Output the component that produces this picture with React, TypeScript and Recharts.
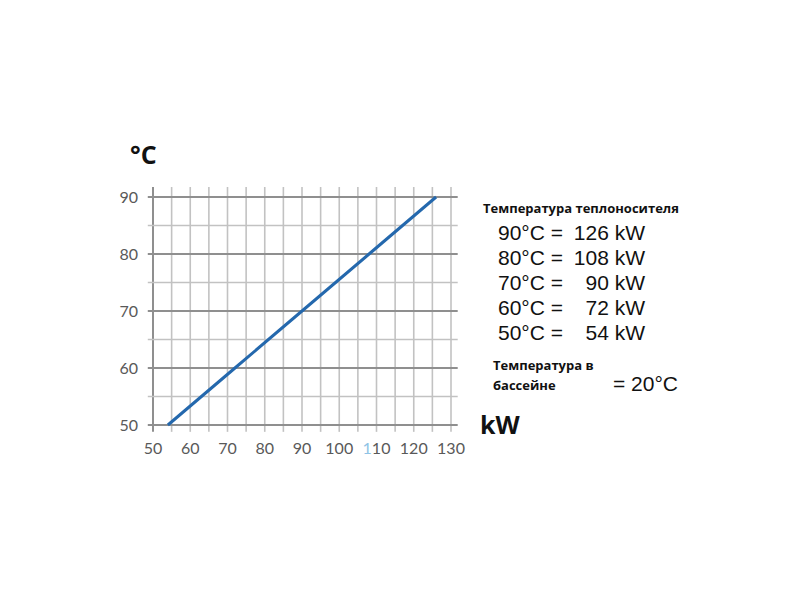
import React from 'react';
import { LineChart, Line, XAxis, YAxis, ReferenceLine } from 'recharts';

// heating capacity at each supply temperature (pool at 20°C)
const temps = [50, 60, 70, 80, 90];
const powers = [54, 72, 90, 108, 126];
const xTicks = [50, 60, 70, 80, 90, 100, 110, 120, 130];
const yTicks = [50, 60, 70, 80, 90];
const xGrid = [50, 55, 60, 65, 70, 75, 80, 85, 90, 95, 100, 105, 110, 115, 120, 125, 130];
const yGrid = [50, 55, 60, 65, 70, 75, 80, 85, 90];

const data = powers.map((p, i) => ({ kw: p, t: temps[i] }));

const TICK_FONT = 'Lato, "Open Sans", sans-serif';
const DARK = '#8f8f8f';
const LIGHT = '#c2c2c2';

const XTick = ({ x, y, payload }: any) => {
  const v = String(payload.value);
  return (
    <text x={x} y={y + 21} textAnchor="middle" fontSize={16} fill="#595959" fontFamily={TICK_FONT}>
      {v === '110' ? (
        <>
          <tspan fill="#8fc3e6">1</tspan>
          <tspan>10</tspan>
        </>
      ) : v}
    </text>
  );
};

const YTick = ({ x, y, payload }: any) => (
  <text x={x - 7} y={y + 6} textAnchor="end" fontSize={16} fill="#595959" fontFamily={TICK_FONT}>
    {payload.value}
  </text>
);

const App: React.FC = () => {
  const rows = [...temps].reverse().map((t, i) => ({ t, p: [...powers].reverse()[i] }));
  return (
    <div style={{ position: 'absolute', left: 0, top: 0, width: 800, height: 600, background: '#fff' }}>
      <LineChart width={800} height={600} data={data} margin={{ top: 197, right: 349, bottom: 145, left: 113 }}>
        <XAxis
          type="number"
          dataKey="kw"
          domain={[50, 130]}
          ticks={xTicks}
          axisLine={false}
          tickLine={false}
          height={30}
          tick={<XTick />}
          interval={0}
        />
        <YAxis
          type="number"
          domain={[50, 90]}
          ticks={yTicks}
          axisLine={false}
          tickLine={false}
          width={40}
          tick={<YTick />}
          interval={0}
        />
        {xGrid.map((v) => (
          <ReferenceLine
            key={'vx' + v}
            segment={[{ x: v, y: 48.8 }, { x: v, y: 91.75 }]}
            stroke={v === 50 ? DARK : LIGHT}
            strokeWidth={v === 50 ? 2 : 1.6}
            ifOverflow="visible"
          />
        ))}
        {yGrid.map((v) => (
          <ReferenceLine
            key={'hy' + v}
            segment={[{ x: 48.6, y: v }, { x: 131.8, y: v }]}
            stroke={v % 10 === 0 ? DARK : LIGHT}
            strokeWidth={v % 10 === 0 ? 2 : 1.6}
            ifOverflow="visible"
          />
        ))}
        <Line
          type="linear"
          dataKey="t"
          stroke="#2468ad"
          strokeWidth={3}
          dot={false}
          isAnimationActive={false}
        />
      </LineChart>
      <svg width={800} height={600} style={{ position: 'absolute', left: 0, top: 0, pointerEvents: 'none' }}>
        <text x={130} y={164} fontSize={25} fontWeight="bold" fontFamily='"Open Sans", sans-serif' fill="#111">°C</text>
        <text x={480} y={434} fontSize={25} fontWeight="bold" fontFamily='"Open Sans", sans-serif' fill="#111">kW</text>
        <text x={483} y={213} fontSize={13} fontWeight="bold" fontFamily='"Open Sans", sans-serif' fill="#111">
          Температура теплоносителя
        </text>
        {rows.map((r, i) => (
          <g key={r.t} fontFamily='"Liberation Sans", Arial, sans-serif' fontSize={21} fill="#111">
            <text x={498} y={240 + i * 25}>{`${r.t}°C =`}</text>
            <text x={645} y={240 + i * 25} textAnchor="end">{`${r.p} kW`}</text>
          </g>
        ))}
        <text x={493} y={370} fontSize={13} fontWeight="bold" fontFamily='"Open Sans", sans-serif' fill="#111">
          Температура в
        </text>
        <text x={493} y={390} fontSize={13} fontWeight="bold" fontFamily='"Open Sans", sans-serif' fill="#111">
          бассейне
        </text>
        <text x={613} y={391} fontSize={21} fontFamily='"Liberation Sans", Arial, sans-serif' fill="#111">= 20°C</text>
      </svg>
    </div>
  );
};

export default App;
